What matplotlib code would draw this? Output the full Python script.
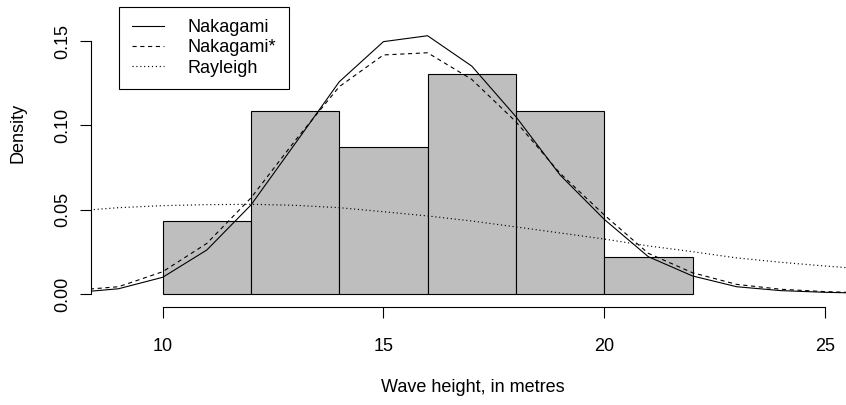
import matplotlib
matplotlib.use("Agg")
import matplotlib.pyplot as plt
from matplotlib.lines import Line2D
import numpy as np

plt.rcParams["font.family"] = ["Liberation Sans", "DejaVu Sans"]
plt.rcParams["lines.scale_dashes"] = False

# histogram of observed wave heights (counts per 2 m bin)
bin_edges = [10, 12, 14, 16, 18, 20, 22]
bin_counts = [2, 5, 4, 6, 5, 1]

# fitted densities read at integer heights
heights = [8, 9, 10, 11, 12, 13, 14, 15, 16, 17, 18, 19, 20, 21, 22, 23, 24, 25, 26]
nakagami = [0.0008, 0.0031, 0.0099, 0.0261, 0.0528, 0.0892, 0.1259, 0.1497, 0.1532, 0.1352,
            0.1052, 0.0706, 0.0443, 0.0221, 0.0107, 0.0043, 0.0020, 0.0010, 0.0004]
nakagami_star = [0.0022, 0.0043, 0.0132, 0.0300, 0.0570, 0.0910, 0.1230, 0.1418, 0.1431, 0.1273,
                 0.1022, 0.0716, 0.0469, 0.0241, 0.0126, 0.0057, 0.0028, 0.0014, 0.0006]
rayleigh = [0.0492, 0.0512, 0.0524, 0.0530, 0.0532, 0.0526, 0.0512, 0.0488, 0.0463, 0.0433,
            0.0398, 0.0362, 0.0326, 0.0285, 0.0251, 0.0214, 0.0188, 0.0166, 0.0146]

x_ticks = [10, 15, 20, 25]
y_ticks = [0.00, 0.05, 0.10, 0.15]
y_ticklabels = ["0.00", "0.05", "0.10", "0.15"]

W, H = 846, 405
fig = plt.figure(figsize=(W / 100, H / 100), dpi=100)

# plot region in pixels (R style, partly outside the cropped picture)
left_px, right_px = 90.7, 855.0
bottom_px, top_px = 307.3, -41.3
ax = fig.add_axes([left_px / W, 1 - bottom_px / H,
                   (right_px - left_px) / W, (bottom_px - top_px) / H])
ax.set_xlim(8.37, 25.68)
ax.set_ylim(-0.0079, 0.1989)

ax.hist(bin_edges[:-1], bins=bin_edges, weights=bin_counts, density=True,
        color="#BEBEBE", edgecolor="black", linewidth=0.8)

dashed = (0, (3.0, 2.6))
dotted = (0, (0.8, 2.0))
ax.plot(heights, nakagami, color="black", linewidth=0.8, linestyle="-")
ax.plot(heights, nakagami_star, color="black", linewidth=0.8, linestyle=dashed)
ax.plot(heights, rayleigh, color="black", linewidth=0.85, linestyle=dotted)

for side in ("top", "right"):
    ax.spines[side].set_visible(False)
ax.spines["left"].set_bounds(0, 0.15)
ax.spines["bottom"].set_bounds(10, 25)
ax.spines["left"].set_linewidth(0.8)
ax.spines["bottom"].set_linewidth(0.8)

ax.set_xticks(x_ticks)
ax.set_xticklabels([str(t) for t in x_ticks])
ax.set_yticks(y_ticks)
ax.set_yticklabels(y_ticklabels, rotation=90, va="center")
ax.tick_params(axis="both", direction="out", length=7.7, width=0.8, labelsize=13)
ax.tick_params(axis="x", pad=14.2)
ax.tick_params(axis="y", pad=6)

fig.text(18.5 / W, 1 - 133 / H, "Density", rotation=90, ha="center", va="center", fontsize=13)
fig.text(473 / W, 1 - 387 / H, "Wave height, in metres", ha="center", va="center", fontsize=13)

handles = [
    Line2D([], [], color="black", linewidth=0.8, linestyle="-"),
    Line2D([], [], color="black", linewidth=0.8, linestyle=dashed),
    Line2D([], [], color="black", linewidth=0.85, linestyle=dotted),
]
leg = fig.legend(handles, ["Nakagami", "Nakagami*", "Rayleigh"],
                 loc="upper left", bbox_to_anchor=(119 / W, 1 - 6.5 / H),
                 borderaxespad=0, fontsize=13, frameon=True, fancybox=False,
                 framealpha=1, edgecolor="black", handlelength=1.78,
                 handletextpad=1.3, labelspacing=0.18, borderpad=0.7)
leg.get_frame().set_linewidth(0.8)

fig.savefig("out.png", dpi=100)
